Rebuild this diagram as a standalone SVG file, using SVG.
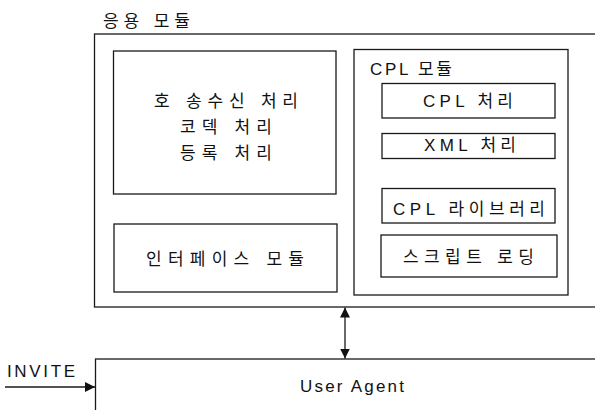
<svg xmlns="http://www.w3.org/2000/svg" width="595" height="410" viewBox="0 0 595 410">
<style>
.box{fill:none;stroke:#1a1a1a;stroke-width:1.3}
.t{font-family:"Liberation Sans","Noto Sans CJK KR",sans-serif;fill:#111;font-size:17px}
.ln{stroke:#1a1a1a;stroke-width:1.3;fill:none}
</style>
<defs>
<marker id="ah" viewBox="0 0 10 10" refX="10" refY="5" markerWidth="10" markerHeight="10" markerUnits="userSpaceOnUse" orient="auto-start-reverse">
<path d="M0,0 L10,5 L0,10 z" fill="#111"/>
</marker>
</defs>
<rect width="595" height="410" fill="#fff"/>
<g id="app-module">
<rect class="box" x="94.5" y="34" width="520" height="273"/>
<text class="t" x="103" y="27" textLength="87" lengthAdjust="spacing">응용 모듈</text>
</g>
<g id="call-box">
<rect class="box" x="113.5" y="51" width="222.5" height="143"/>
<text class="t" x="154" y="107" textLength="144" lengthAdjust="spacing">호 송수신 처리</text>
<text class="t" x="180" y="133" textLength="92" lengthAdjust="spacing">코덱 처리</text>
<text class="t" x="180" y="159" textLength="92" lengthAdjust="spacing">등록 처리</text>
</g>
<g id="interface-module">
<rect class="box" x="114" y="224" width="223" height="68"/>
<text class="t" x="146" y="265" textLength="158" lengthAdjust="spacing">인터페이스 모듈</text>
</g>
<g id="cpl-module">
<rect class="box" x="354" y="49.5" width="214" height="245.5"/>
<text class="t" x="370" y="75" textLength="82" lengthAdjust="spacing">CPL 모듈</text>
</g>
<g id="cpl-proc">
<rect class="box" x="382" y="83.5" width="173" height="34.5"/>
<text class="t" x="423" y="107" font-size="18" textLength="90" lengthAdjust="spacing">CPL 처리</text>
</g>
<g id="xml-proc">
<rect class="box" x="382" y="133.5" width="173" height="25"/>
<text class="t" x="424" y="151" font-size="18" textLength="92" lengthAdjust="spacing">XML 처리</text>
</g>
<g id="cpl-lib">
<rect class="box" x="382" y="188.5" width="173" height="34.5"/>
<text class="t" x="393" y="215" font-size="18" textLength="152" lengthAdjust="spacing">CPL 라이브러리</text>
</g>
<g id="script-loading">
<rect class="box" x="381" y="235" width="176" height="42"/>
<text class="t" x="403" y="263" font-size="18" textLength="131" lengthAdjust="spacing">스크립트 로딩</text>
</g>
<g id="user-agent">
<rect class="box" x="95.5" y="359" width="520" height="80"/>
<text class="t" x="300" y="392" font-size="18" textLength="104" lengthAdjust="spacing">User Agent</text>
</g>
<g id="invite-label">
<text class="t" x="7" y="377" textLength="68" lengthAdjust="spacing">INVITE</text>
</g>
<g id="connectors">
<line class="ln" x1="345" y1="307.5" x2="345" y2="358.5" marker-start="url(#ah)" marker-end="url(#ah)"/>
<line class="ln" x1="5" y1="387" x2="95" y2="387" marker-end="url(#ah)"/>
</g>
</svg>
